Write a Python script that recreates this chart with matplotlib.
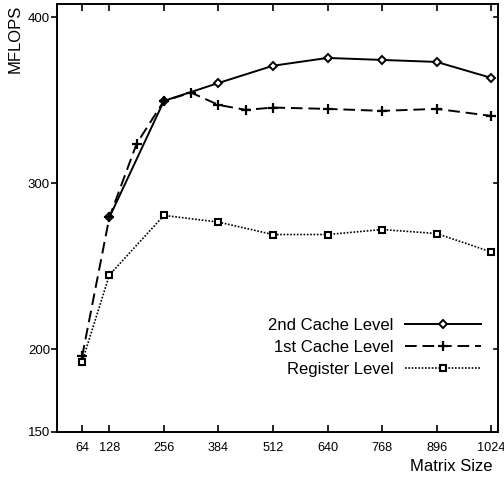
import matplotlib
matplotlib.use("Agg")
import matplotlib.pyplot as plt
import matplotlib.transforms as mtransforms

plt.rcParams['font.family'] = ['Liberation Sans', 'DejaVu Sans']

x_ticks = [64, 128, 256, 384, 512, 640, 768, 896, 1024]
y_ticks = [150, 200, 300, 400]

x_l2 = [128, 256, 384, 512, 640, 768, 896, 1024]
y_l2 = [279.3, 349.5, 360.3, 370.7, 375.4, 374.2, 373.0, 363.4]

x_l1 = [64, 128, 192, 256, 320, 384, 448, 512, 640, 768, 896, 1024]
y_l1 = [195.5, 279.3, 323.7, 349.5, 354.5, 347.1, 344.1, 345.5, 344.7, 343.5, 344.7, 340.5]

x_reg = [64, 128, 256, 384, 512, 640, 768, 896, 1024]
y_reg = [192.2, 244.6, 280.5, 276.5, 269.0, 269.0, 272.0, 269.6, 258.5]

fig = plt.figure(figsize=(5.04, 4.8), dpi=100)
ax = fig.add_axes([0.113, 0.1, 0.875, 0.892])

ax.plot(x_l2, y_l2, color='black', lw=1.4, ls='-', marker='D', ms=4.2,
        mfc='white', mec='black', mew=1.4, label='2nd Cache Level')
ax.plot(x_l1, y_l1, color='black', lw=1.4, ls=(0, (6, 3)), marker='+', ms=6.5,
        mew=1.6, label='1st Cache Level')
ax.plot(x_reg, y_reg, color='black', lw=1.2, ls=(0, (1, 1)), marker='s', ms=5,
        mfc='white', mec='black', mew=1.5, label='Register Level')

ax.set_xlim(5, 1040)
ax.set_ylim(150, 408)
ax.set_xticks(x_ticks)
ax.set_xticklabels([str(v) for v in x_ticks], fontsize=9.2)
ax.set_yticks(y_ticks)
ax.set_yticklabels([str(v) for v in y_ticks], fontsize=9.5)

# keep the last x label inside the figure
last = ax.get_xticklabels()[-1]
last.set_transform(last.get_transform() +
                   mtransforms.ScaledTranslation(-3 / 100, 0, fig.dpi_scale_trans))

ax.tick_params(axis='x', direction='in', top=True, length=5, width=1.2, pad=7)
ax.tick_params(axis='y', direction='out', length=4, width=1.2, pad=1)
for v in [200, 300, 400]:
    ax.plot([1040, 1040 - 10], [v, v], color='black', lw=1.2, clip_on=False)

for s in ax.spines.values():
    s.set_linewidth(1.4)

leg = ax.legend(loc='lower right', bbox_to_anchor=(0.961, 0.128), frameon=False,
                markerfirst=False, fontsize=12, handlelength=4.55,
                handletextpad=0.7, labelspacing=0.42, borderpad=0, borderaxespad=0)

fig.text(0.03, 0.99, 'MFLOPS', rotation=90, ha='center', va='top', fontsize=12)
fig.text(0.978, 0.028, 'Matrix Size', ha='right', va='center', fontsize=12)

fig.savefig('out.png', dpi=100)
